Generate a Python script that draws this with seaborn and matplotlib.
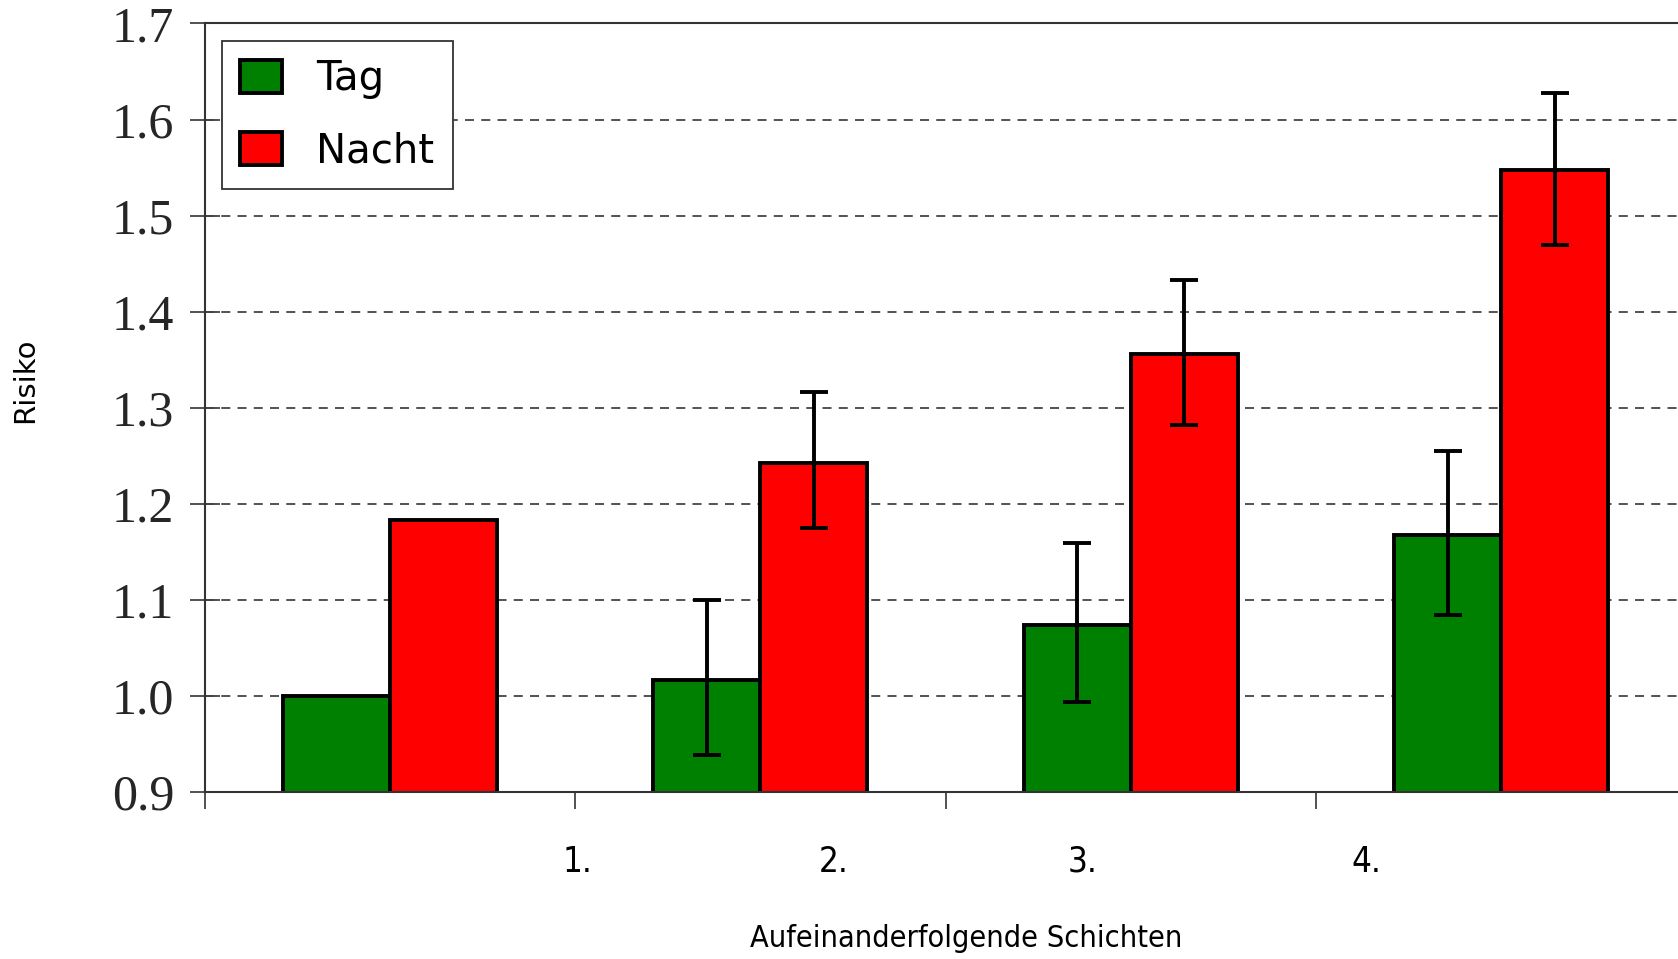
import numpy as np
import pandas as pd
import matplotlib
matplotlib.use("Agg")
import matplotlib.pyplot as plt
import seaborn as sns

# data
schichten = ["1.", "2.", "3.", "4."]
tag = [1.000, 1.017, 1.074, 1.168]
nacht = [1.183, 1.243, 1.356, 1.547]
tag_low = [1.000, 0.939, 0.994, 1.084]
tag_high = [1.000, 1.100, 1.159, 1.255]
nacht_low = [1.183, 1.175, 1.282, 1.469]
nacht_high = [1.183, 1.316, 1.433, 1.628]
# label positions on the x axis (they sit oddly in the original)
label_pos = [0.506, 1.199, 1.870, 2.636]

df = pd.DataFrame({
    "Schicht": schichten * 2,
    "Risiko": tag + nacht,
    "Zeit": ["Tag"] * 4 + ["Nacht"] * 4,
})

sns.set_style("white")
plt.rcParams["font.family"] = ["DejaVu Sans"]

fig = plt.figure(figsize=(16.78, 9.59), dpi=100)
ax = fig.add_axes([0.122, 0.174, 0.883, 0.8015])

sns.barplot(data=df, x="Schicht", y="Risiko", hue="Zeit",
            palette={"Tag": "#008000", "Nacht": "#ff0000"}, saturation=1,
            width=0.578, errorbar=None, edgecolor="black", linewidth=2.8,
            ax=ax, zorder=2)

# error bars at the bar centres seaborn gave us
bars = [p for p in ax.patches if p.get_height() > 0][:8]
bars = sorted(bars, key=lambda p: p.get_x())
xs = [p.get_x() + p.get_width() / 2 for p in bars]
xs_tag = xs[0::2]
xs_nacht = xs[1::2]
for x, v, lo, hi in zip(xs_tag, tag, tag_low, tag_high):
    if hi > v:
        ax.errorbar(x, v, yerr=[[v - lo], [hi - v]], color="black",
                    elinewidth=2.8, capsize=10, capthick=2.8, zorder=4)
for x, v, lo, hi in zip(xs_nacht, nacht, nacht_low, nacht_high):
    if hi > v:
        ax.errorbar(x, v, yerr=[[v - lo], [hi - v]], color="black",
                    elinewidth=2.8, capsize=10, capthick=2.8, zorder=4)

ax.set_ylim(0.9, 1.7)
ax.set_xlim(-0.5, 3.5)
ax.set_yticks(np.arange(0.9, 1.71, 0.1))
ax.set_yticklabels([f"{v:.1f}" for v in np.arange(0.9, 1.71, 0.1)],
                   fontfamily="Liberation Serif", fontsize=36)
ax.tick_params(axis="y", left=True, direction="inout", length=22, width=1.2,
               pad=11, color="#333333")

for y in np.arange(1.0, 1.65, 0.1):
    ax.axhline(y, color="#444444", linestyle=(0, (5, 4)), linewidth=1.3,
               zorder=1)

# boundary ticks as minor, labels as major without marks
ax.set_xticks([-0.5, 0.5, 1.5, 2.5], minor=True)
ax.tick_params(axis="x", which="minor", bottom=True, direction="out",
               length=12, width=1.2, color="#333333")
ax.set_xticks(label_pos)
ax.set_xticklabels(schichten, fontsize=25, fontstretch="condensed",
                   color="black")
ax.tick_params(axis="x", which="major", length=0, pad=38)

ax.set_xlabel("Aufeinanderfolgende Schichten", fontsize=22,
              fontstretch="condensed", color="black")
ax.xaxis.set_label_coords(0.514, -0.172)
ax.set_ylabel("Risiko", fontsize=21, color="black")
ax.yaxis.set_label_coords(-0.112, 0.536)

for s in ax.spines.values():
    s.set_color("#333333")
    s.set_linewidth(1.5)

handles, labels = ax.get_legend_handles_labels()
leg = ax.legend(handles, labels, loc="upper left",
                bbox_to_anchor=(17 / 1482, 1 - 17.5 / 768.5),
                borderaxespad=0, fontsize=29, fancybox=False,
                edgecolor="#333333", framealpha=1, handlelength=1.05,
                handleheight=0.9, handletextpad=0.85, labelspacing=0.8,
                borderpad=0.45)
leg.get_frame().set_linewidth(1.3)
for t in leg.get_texts():
    t.set_color("black")
leg.set_zorder(5)

fig.savefig("out.png", dpi=100)
